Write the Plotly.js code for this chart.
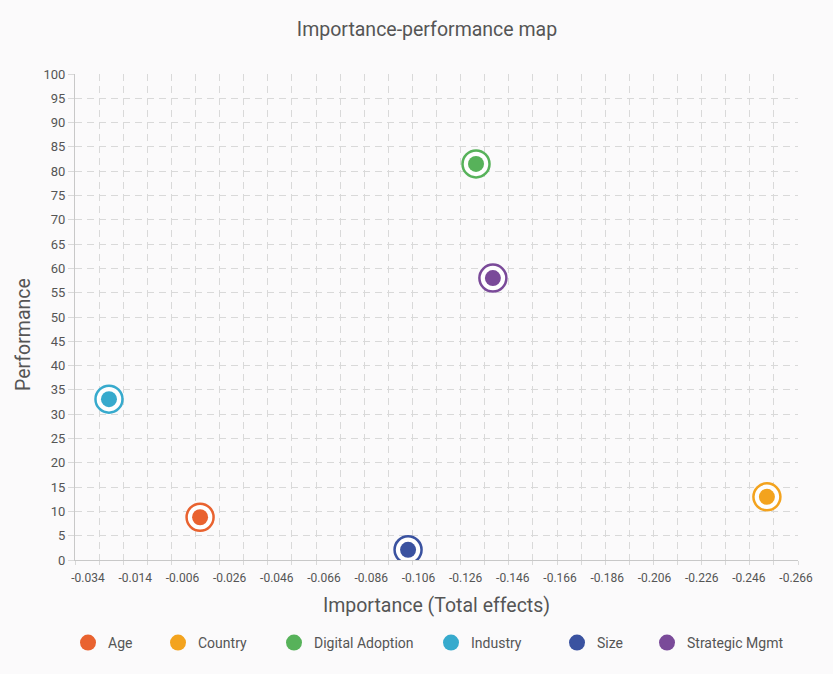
<!DOCTYPE html>
<html>
<head>
<meta charset="utf-8">
<script src="https://cdn.plot.ly/plotly-3.0.1.min.js"></script>
<style>
  html, body { margin: 0; padding: 0; background: #fbfafb; }
  #chart { width: 833px; height: 674px; }
</style>
</head>
<body>
<div id="chart"></div>
<script>
// Data
const names = ['Age', 'Country', 'Digital Adoption', 'Industry', 'Size', 'Strategic Mgmt'];
const importance = [-0.0179, -0.2531, -0.1324, 0.0199, -0.1042, -0.1394];
const performance = [8.8, 13.0, 81.5, 33.1, 2.1, 58.0];
const colors = ['#e9622f', '#f3a31e', '#57b25a', '#37aacd', '#3a52a0', '#7a4a99'];

// x tick labels as printed in the reference (left to right)
const xTickText = ['-0.034', '-0.014', '-0.006', '-0.026', '-0.046', '-0.066', '-0.086', '-0.106',
                   '-0.126', '-0.146', '-0.166', '-0.186', '-0.206', '-0.226', '-0.246', '-0.266'];
const yTicks = [0, 5, 10, 15, 20, 25, 30, 35, 40, 45, 50, 55, 60, 65, 70, 75, 80, 85, 90, 95, 100];

const W = 833, H = 674;
const M = { l: 75, r: 35, t: 74, b: 114 };
const xRange = [0.034, -0.266];
// labels sit slightly inset from the grid in the reference
const labFirst = 0.0286, labLast = -0.2652;
const xTickVals = xTickText.map((t, i) => labFirst + (labLast - labFirst) * i / (xTickText.length - 1));

// one small legend per series so the entries spread like the original
const legendPx = [88, 178, 294, 451, 577, 667];
const legendId = i => (i === 0 ? 'legend' : 'legend' + (i + 1));

const traces = [];
names.forEach((n, i) => {
    // outer ring
    traces.push({
        type: 'scatter', mode: 'markers',
        x: [importance[i]], y: [performance[i]],
        name: n, legendgroup: n, showlegend: false, hoverinfo: 'skip',
        marker: { size: 27, color: 'rgba(255,255,255,0.9)', line: { color: colors[i], width: 2.5 } }
    });
    // inner dot
    traces.push({
        type: 'scatter', mode: 'markers',
        x: [importance[i]], y: [performance[i]],
        name: n, legendgroup: n, legend: legendId(i),
        marker: { size: 16, color: colors[i], line: { width: 0 } }
    });
});

const font = 'Roboto, "Noto Sans", sans-serif';
const gridCol = '#d9d9d9';
const gridDash = '7px,5px';
const plotW = W - M.l - M.r, plotH = H - M.t - M.b;

const layout = {
    width: W, height: H,
    paper_bgcolor: '#fbfafb',
    plot_bgcolor: '#fbfafb',
    font: { family: font, color: '#555' },
    margin: M,
    title: {
        text: 'Importance-performance map',
        x: 427 / W, xanchor: 'center', y: 1 - 29 / H, yanchor: 'middle',
        font: { family: font, size: 19.5, color: '#555' }
    },
    xaxis: {
        range: xRange,
        tickmode: 'array', tickvals: xTickVals, ticktext: xTickText,
        tickfont: { size: 12, color: '#555' },
        ticklabelstandoff: 7,
        ticks: '', showgrid: false, zeroline: false,
        showline: true, linecolor: '#c8c8c8', linewidth: 1,
        minor: {
            tickmode: 'linear', tick0: 0.034, dtick: 0.01,
            showgrid: true, gridcolor: gridCol, griddash: gridDash, gridwidth: 1,
            ticks: 'outside', ticklen: 4, tickcolor: gridCol
        },
        title: { text: 'Importance (Total effects)', font: { size: 19.5, color: '#555' }, standoff: 13 }
    },
    yaxis: {
        range: [0, 100],
        tickmode: 'array', tickvals: yTicks,
        tickfont: { size: 13, color: '#555' },
        showgrid: true, gridcolor: gridCol, griddash: gridDash, gridwidth: 1,
        ticks: 'outside', ticklen: 6, tickcolor: gridCol,
        zeroline: false,
        showline: true, linecolor: '#c8c8c8', linewidth: 1
    },
    annotations: [{
        // y title sits a little below the plot centre in the original
        text: 'Performance', textangle: -90,
        xref: 'paper', yref: 'paper',
        x: (23 - M.l) / plotW, y: (H - M.b - 335) / plotH,
        xanchor: 'center', yanchor: 'middle', showarrow: false,
        font: { family: font, size: 19.5, color: '#555' }
    }],
    showlegend: true
};

legendPx.forEach((px, i) => {
    layout[legendId(i)] = {
        orientation: 'h',
        xref: 'container', yref: 'container',
        x: (px - 20) / W, xanchor: 'left',
        y: 1 - 643 / H, yanchor: 'middle',
        font: { size: 14, color: '#555' },
        itemsizing: 'trace', itemwidth: 30,
        bgcolor: 'rgba(0,0,0,0)', borderwidth: 0
    };
});

Plotly.newPlot('chart', traces, layout, { displayModeBar: false, responsive: false });
</script>
</body>
</html>
